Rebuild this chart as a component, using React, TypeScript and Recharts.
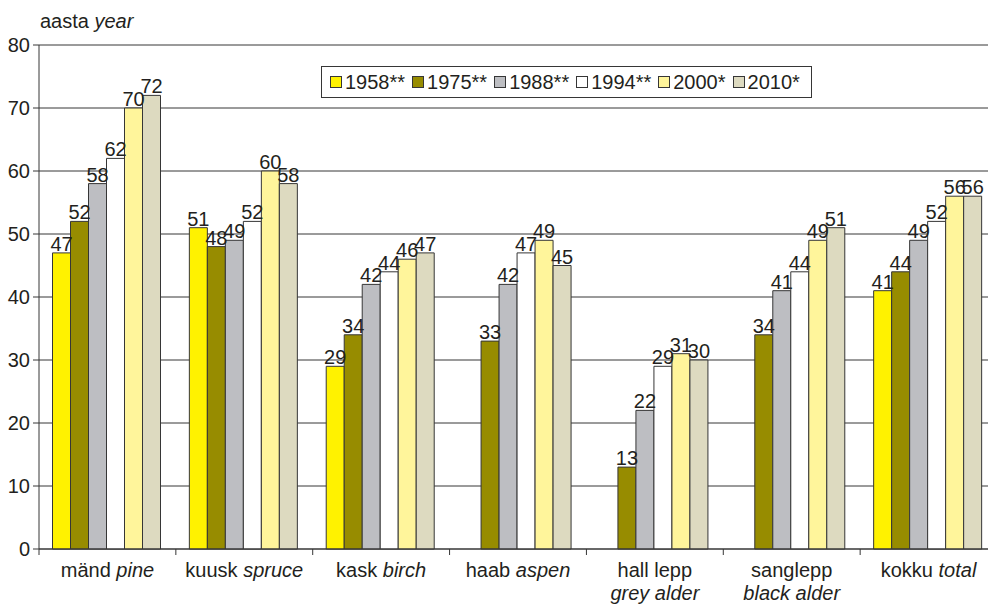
import { BarChart, Bar, XAxis, YAxis, CartesianGrid, LabelList } from 'recharts';

const speciesEt = ['mänd', 'kuusk', 'kask', 'haab', 'hall lepp', 'sanglepp', 'kokku'];
const speciesEn = ['pine', 'spruce', 'birch', 'aspen', 'grey alder', 'black alder', 'total'];
const twoLine = [false, false, false, false, true, true, false];

const y1958 = [47, 51, 29, null, null, null, 41];
const y1975 = [52, 48, 34, 33, 13, 34, 44];
const y1988 = [58, 49, 42, 42, 22, 41, 49];
const y1994 = [62, 52, 44, 47, 29, 44, 52];
const y2000 = [70, 60, 46, 49, 31, 49, 56];
const y2010 = [72, 58, 47, 45, 30, 51, 56];

const yTicks = [0, 10, 20, 30, 40, 50, 60, 70, 80];

const SERIES = [
  { key: 'y1958', name: '1958**', color: '#fff200', values: y1958 },
  { key: 'y1975', name: '1975**', color: '#978c00', values: y1975 },
  { key: 'y1988', name: '1988**', color: '#bdbec2', values: y1988 },
  { key: 'y1994', name: '1994**', color: '#ffffff', values: y1994 },
  { key: 'y2000', name: '2000*', color: '#fff59b', values: y2000 },
  { key: 'y2010', name: '2010*', color: '#dddac0', values: y2010 },
];

const data = speciesEt.map((et, i) => {
  const row: Record<string, string | number | null> = { name: et };
  for (const s of SERIES) row[s.key] = s.values[i];
  return row;
});

const FONT = '"Liberation Sans", Arial, sans-serif';
const INK = '#231f20';
const LINE = '#363636';

// category label + tick mark on the band boundary (not the centre)
function CategoryTick(props: any) {
  const { x, y, payload, index } = props;
  const half = payload?.offset ?? 68.4;
  const i = speciesEt.indexOf(payload.value);
  const et = speciesEt[i];
  const en = speciesEn[i];
  return (
    <g>
      <line x1={x - half} y1={y} x2={x - half} y2={y + 6} stroke={LINE} />
      {index === speciesEt.length - 1 && (
        <line x1={x + half} y1={y} x2={x + half} y2={y + 6} stroke={LINE} />
      )}
      {twoLine[i] ? (
        <text textAnchor="middle" fill={INK} fontSize={20} fontFamily={FONT}>
          <tspan x={x} y={y + 28}>{et}</tspan>
          <tspan x={x} y={y + 51} fontStyle="italic">{en}</tspan>
        </text>
      ) : (
        <text x={x} y={y + 28} textAnchor="middle" fill={INK} fontSize={20} fontFamily={FONT}>
          {et} <tspan fontStyle="italic">{en}</tspan>
        </text>
      )}
    </g>
  );
}

function LegendBox() {
  return (
    <div
      style={{
        position: 'absolute',
        left: 321,
        top: 66,
        display: 'flex',
        alignItems: 'center',
        border: `1px solid ${LINE}`,
        background: '#fff',
        height: 30,
        padding: '0 4px 0 8px',
        fontFamily: FONT,
        fontSize: 20,
        color: INK,
        whiteSpace: 'nowrap',
      }}
    >
      {SERIES.map((s) => (
        <span key={s.key} style={{ display: 'flex', alignItems: 'center', marginRight: 7 }}>
          <span
            style={{
              display: 'inline-block',
              width: 10,
              height: 10,
              background: s.color,
              border: `1px solid ${LINE}`,
              marginRight: 3,
            }}
          />
          {s.name}
        </span>
      ))}
    </div>
  );
}

export default function App() {
  return (
    <div
      style={{
        position: 'fixed',
        left: 0,
        top: 0,
        width: 988,
        height: 606,
        overflow: 'hidden',
        background: '#fff',
      }}
    >
      <div
        style={{
          position: 'absolute',
          left: 40,
          top: 10,
          fontFamily: FONT,
          fontSize: 20,
          color: INK,
          whiteSpace: 'nowrap',
        }}
      >
        aasta <span style={{ fontStyle: 'italic' }}>year</span>
      </div>
      <BarChart
        width={997}
        height={606}
        data={data}
        margin={{ top: 45, right: 0, bottom: 0, left: 0 }}
        barCategoryGap={13.5}
        barGap={0}
      >
        <CartesianGrid horizontal vertical={false} stroke={LINE} strokeOpacity={1} />
        <XAxis
          dataKey="name"
          height={57}
          interval={0}
          tickLine={false}
          tickSize={0}
          tickMargin={0}
          axisLine={{ stroke: LINE }}
          tick={<CategoryTick />}
        />
        <YAxis
          width={39}
          domain={[0, 80]}
          ticks={yTicks}
          interval={0}
          tickSize={6}
          tickMargin={3}
          axisLine={{ stroke: LINE }}
          tickLine={{ stroke: LINE }}
          tick={{ fill: INK, fontSize: 20, fontFamily: FONT }}
        />
        {SERIES.map((s) => (
          <Bar
            key={s.key}
            dataKey={s.key}
            name={s.name}
            fill={s.color}
            stroke={LINE}
            strokeWidth={1}
            isAnimationActive={false}
          >
            <LabelList
              dataKey={s.key}
              position="top"
              offset={2}
              fill={INK}
              fontSize={20}
              fontFamily={FONT}
            />
          </Bar>
        ))}
      </BarChart>
      <LegendBox />
    </div>
  );
}
